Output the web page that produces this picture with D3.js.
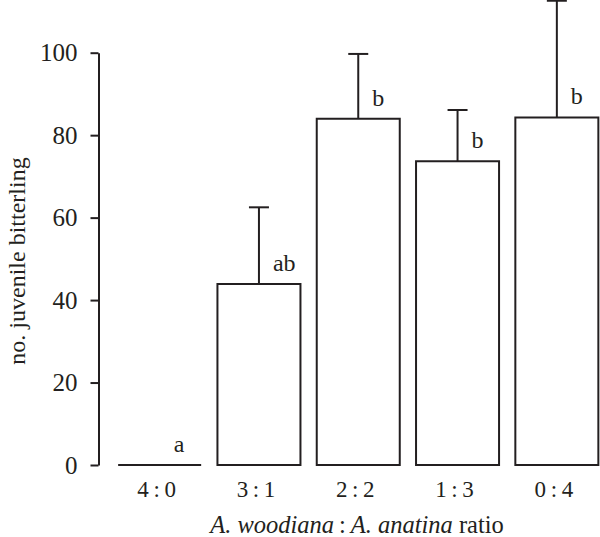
<!DOCTYPE html>
<html>
<head>
<meta charset="utf-8">
<script src="https://cdn.jsdelivr.net/npm/d3@7"></script>
<style>
  body { margin: 0; background: #fff; }
  svg { display: block; font-family: "Liberation Serif", "Times New Roman", serif; }
</style>
</head>
<body>
<div id="chart"></div>
<script>
// ratios of A. woodiana : A. anatina
const ratios = ['4:0', '3:1', '2:2', '1:3', '0:4'];
const means = [0, 43.9, 84.0, 73.7, 84.3];
const upperErr = [0, 62.5, 99.7, 86.1, 112.6];
const groups = ['a', 'ab', 'b', 'b', 'b'];
const yTicks = [0, 20, 40, 60, 80, 100];

const ink = '#231f20';
const serif = '"Liberation Serif", "Times New Roman", serif';
const width = 600, height = 537;

const svg = d3.select('#chart').append('svg')
    .attr('width', width)
    .attr('height', height);

const x = d3.scaleBand()
    .domain(ratios)
    .range([110, 606.5])
    .paddingInner(0.164)
    .paddingOuter(0.082);

const y = d3.scaleLinear()
    .domain([0, 100])
    .range([465, 52.7]);

// y axis
const yAxis = svg.append('g')
    .attr('transform', 'translate(98.5,0)')
    .call(d3.axisLeft(y).tickValues(yTicks).tickSize(8).tickSizeOuter(0).tickPadding(13));
yAxis.attr('font-family', serif).attr('font-size', 25);
yAxis.select('.domain').attr('stroke', ink).attr('stroke-width', 2);
yAxis.selectAll('.tick line').attr('stroke', ink).attr('stroke-width', 2);
yAxis.selectAll('.tick text').attr('fill', ink);

// bars drawn as closed paths so a zero-height bar still shows as a line
const data = ratios.map((r, i) => ({ r, m: means[i], hi: upperErr[i], g: groups[i] }));

svg.selectAll('.bar')
    .data(data)
    .join('path')
    .attr('class', 'bar')
    .attr('d', d => {
        const x0 = x(d.r), x1 = x0 + x.bandwidth();
        return `M${x0},${y(0)}V${y(d.m)}H${x1}V${y(0)}Z`;
    })
    .attr('fill', '#fff')
    .attr('stroke', ink)
    .attr('stroke-width', 2);

// upper error bars
const err = data.filter(d => d.hi > d.m);
svg.selectAll('.whisker')
    .data(err)
    .join('line')
    .attr('x1', d => x(d.r) + x.bandwidth() / 2)
    .attr('x2', d => x(d.r) + x.bandwidth() / 2)
    .attr('y1', d => y(d.m))
    .attr('y2', d => y(d.hi))
    .attr('stroke', ink)
    .attr('stroke-width', 2);
svg.selectAll('.cap')
    .data(err)
    .join('line')
    .attr('x1', d => x(d.r) + x.bandwidth() / 2 - 10)
    .attr('x2', d => x(d.r) + x.bandwidth() / 2 + 10)
    .attr('y1', d => y(d.hi))
    .attr('y2', d => y(d.hi))
    .attr('stroke', ink)
    .attr('stroke-width', 2);

// significance letters
svg.selectAll('.grp')
    .data(data)
    .join('text')
    .attr('x', d => x(d.r) + x.bandwidth() / 2 + 14)
    .attr('y', d => y(d.m) - 13)
    .attr('fill', ink)
    .attr('font-size', '24px')
    .text(d => d.g);

// category labels
svg.selectAll('.cat')
    .data(ratios)
    .join('text')
    .attr('x', d => x(d) + x.bandwidth() / 2 - 3)
    .attr('y', 497)
    .attr('text-anchor', 'middle')
    .attr('fill', ink)
    .attr('font-size', '23px')
    .text(d => d.replace(':', '\u2009:\u2009'));

// axis titles
const xt = svg.append('text')
    .attr('x', 357)
    .attr('y', 533)
    .attr('text-anchor', 'middle')
    .attr('fill', ink)
    .attr('font-size', '24.5px');
xt.append('tspan').attr('font-style', 'italic').text('A. woodiana');
xt.append('tspan').text('\u2009:\u2009');
xt.append('tspan').attr('font-style', 'italic').text('A. anatina');
xt.append('tspan').text(' ratio');

svg.append('text')
    .attr('transform', 'translate(25,261) rotate(-90)')
    .attr('text-anchor', 'middle')
    .attr('fill', ink)
    .attr('font-size', '24px')
    .text('no. juvenile bitterling');
</script>
</body>
</html>
